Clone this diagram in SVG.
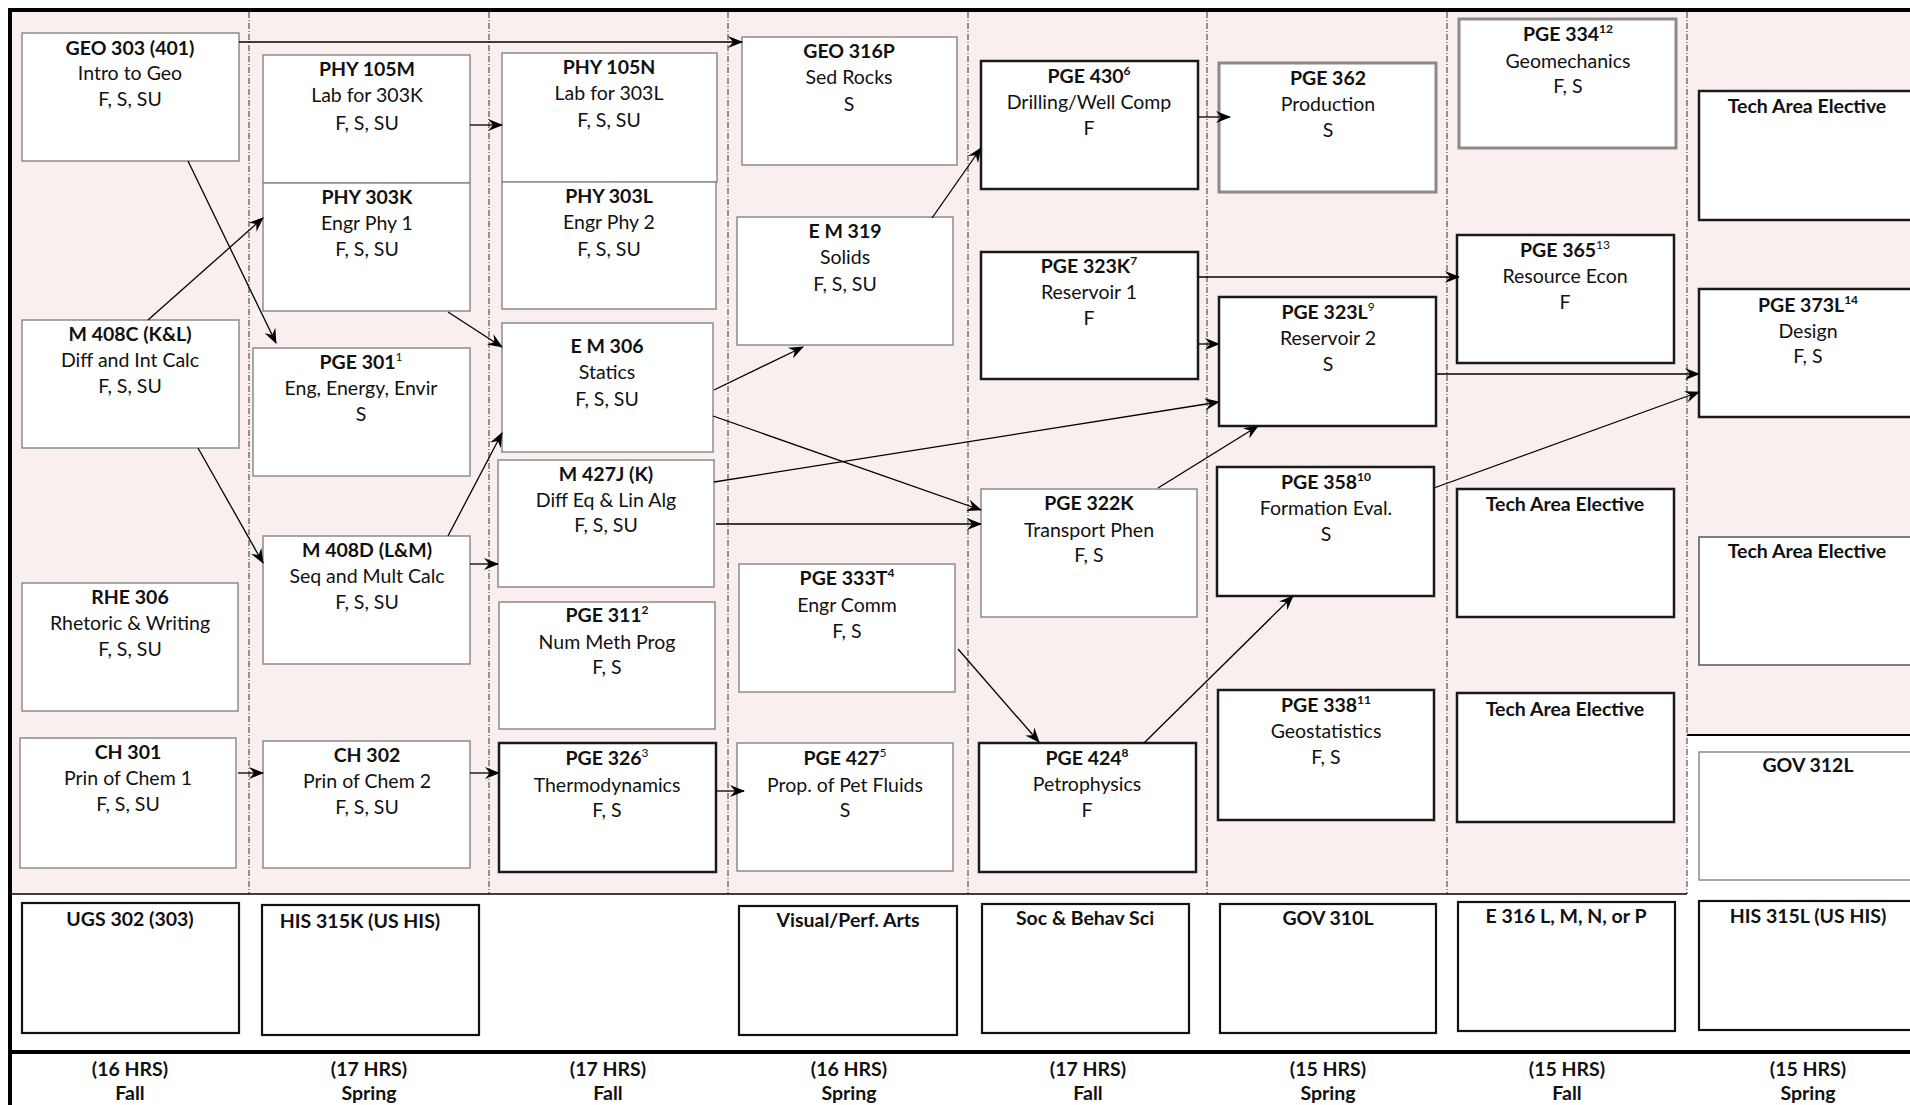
<svg xmlns="http://www.w3.org/2000/svg" width="1910" height="1105" viewBox="0 0 1910 1105">
<defs>
<style>
.g{fill:#fff;stroke:#8c8c8c;stroke-width:1.5}
.k{fill:#fff;stroke:#1a1a1a;stroke-width:2.5}
.gk{fill:#fff;stroke:#8a8a8a;stroke-width:3}
.dg{fill:#fff;stroke:#555;stroke-width:1.5}
.b{fill:#fff;stroke:#111;stroke-width:2.2}
text{font-family:Lato,"Liberation Sans",sans-serif;font-size:19.5px;fill:#111;text-anchor:middle}
.t{font-weight:bold}
.sup{font-size:12px}
.dash{stroke:#333;stroke-width:1;stroke-dasharray:6 2 1 2;fill:none}
.c line{stroke:#000;stroke-width:1.3;marker-end:url(#ah)}
</style>
<marker id="ah" viewBox="0 0 15 12" refX="14" refY="6" markerWidth="15" markerHeight="12" markerUnits="userSpaceOnUse" orient="auto"><path d="M0,0 L15,6 L0,12 L5,6 z" fill="#000"/></marker>
</defs>
<rect x="0" y="0" width="1910" height="1105" fill="#fff"/>
<g id="background">
<rect x="10" y="10" width="1677" height="884" fill="#f9efef"/>
<rect x="1687" y="10" width="223" height="725" fill="#f9efef"/>
<line class="dash" x1="249" y1="12" x2="249" y2="894"/>
<line class="dash" x1="489" y1="12" x2="489" y2="894"/>
<line class="dash" x1="728" y1="12" x2="728" y2="894"/>
<line class="dash" x1="968" y1="12" x2="968" y2="894"/>
<line class="dash" x1="1207" y1="12" x2="1207" y2="894"/>
<line class="dash" x1="1447" y1="12" x2="1447" y2="894"/>
<line class="dash" x1="1687" y1="12" x2="1687" y2="894"/>
<line x1="10" y1="894" x2="1687" y2="894" stroke="#000" stroke-width="1.5"/>
<line x1="1687" y1="735" x2="1910" y2="735" stroke="#000" stroke-width="2"/>
<line x1="8" y1="10" x2="1910" y2="10" stroke="#000" stroke-width="4"/>
<line x1="10" y1="8" x2="10" y2="1105" stroke="#000" stroke-width="4"/>
<line x1="8" y1="1052" x2="1910" y2="1052" stroke="#000" stroke-width="4"/>
</g>
<g id="GEO303"><rect class="g" x="22" y="33" width="217" height="128"/><text class="t" x="130" y="55">GEO 303 (401)</text><text x="130" y="80">Intro to Geo</text><text x="130" y="106">F, S, SU</text></g>
<g id="M408C"><rect class="g" x="22" y="320" width="217" height="128"/><text class="t" x="130" y="341">M 408C (K&amp;L)</text><text x="130" y="367">Diff and Int Calc</text><text x="130" y="393">F, S, SU</text></g>
<g id="RHE306"><rect class="g" x="22" y="583" width="216" height="128"/><text class="t" x="130" y="604">RHE 306</text><text x="130" y="630">Rhetoric &amp; Writing</text><text x="130" y="656">F, S, SU</text></g>
<g id="CH301"><rect class="g" x="20" y="738" width="216" height="130"/><text class="t" x="128" y="759">CH 301</text><text x="128" y="785">Prin of Chem 1</text><text x="128" y="811">F, S, SU</text></g>
<g id="PHY105M"><rect class="g" x="263" y="55" width="207" height="128"/><text class="t" x="367" y="76">PHY 105M</text><text x="367" y="102">Lab for 303K</text><text x="367" y="130">F, S, SU</text></g>
<g id="PHY303K"><rect class="g" x="263" y="183" width="207" height="128"/><text class="t" x="367" y="204">PHY 303K</text><text x="367" y="230">Engr Phy 1</text><text x="367" y="256">F, S, SU</text></g>
<g id="PGE301"><rect class="g" x="253" y="348" width="217" height="128"/><text x="361" y="369"><tspan class="t">PGE 301</tspan><tspan class="sup" dy="-8">1</tspan></text><text x="361" y="395">Eng, Energy, Envir</text><text x="361" y="421">S</text></g>
<g id="M408D"><rect class="g" x="263" y="536" width="207" height="128"/><text class="t" x="367" y="557">M 408D (L&amp;M)</text><text x="367" y="583">Seq and Mult Calc</text><text x="367" y="609">F, S, SU</text></g>
<g id="CH302"><rect class="g" x="263" y="741" width="207" height="127"/><text class="t" x="367" y="762">CH 302</text><text x="367" y="788">Prin of Chem 2</text><text x="367" y="814">F, S, SU</text></g>
<g id="PHY105N"><rect class="g" x="502" y="53" width="215" height="129"/><text class="t" x="609" y="74">PHY 105N</text><text x="609" y="100">Lab for 303L</text><text x="609" y="127">F, S, SU</text></g>
<g id="PHY303L"><rect class="g" x="502" y="182" width="214" height="127"/><text class="t" x="609" y="203">PHY 303L</text><text x="609" y="229">Engr Phy 2</text><text x="609" y="256">F, S, SU</text></g>
<g id="EM306"><rect class="g" x="502" y="323" width="211" height="129"/><text class="t" x="607" y="353">E M 306</text><text x="607" y="379">Statics</text><text x="607" y="406">F, S, SU</text></g>
<g id="M427J"><rect class="g" x="498" y="460" width="216" height="127"/><text class="t" x="606" y="481">M 427J (K)</text><text x="606" y="507">Diff Eq &amp; Lin Alg</text><text x="606" y="532">F, S, SU</text></g>
<g id="PGE311"><rect class="g" x="499" y="602" width="216" height="127"/><text x="607" y="622"><tspan class="t">PGE 311</tspan><tspan class="sup t" dy="-8">2</tspan></text><text x="607" y="649">Num Meth Prog</text><text x="607" y="674">F, S</text></g>
<g id="PGE326"><rect class="k" x="499" y="743" width="217" height="129"/><text x="607" y="765"><tspan class="t">PGE 326</tspan><tspan class="sup" dy="-8">3</tspan></text><text x="607" y="792">Thermodynamics</text><text x="607" y="817">F, S</text></g>
<g id="GEO316P"><rect class="g" x="742" y="37" width="215" height="128"/><text class="t" x="849" y="58">GEO 316P</text><text x="849" y="84">Sed Rocks</text><text x="849" y="111">S</text></g>
<g id="EM319"><rect class="g" x="737" y="217" width="216" height="128"/><text class="t" x="845" y="238">E M 319</text><text x="845" y="264">Solids</text><text x="845" y="291">F, S, SU</text></g>
<g id="PGE333T"><rect class="g" x="739" y="564" width="216" height="128"/><text x="847" y="585"><tspan class="t">PGE 333T</tspan><tspan class="sup t" dy="-8">4</tspan></text><text x="847" y="612">Engr Comm</text><text x="847" y="638">F, S</text></g>
<g id="PGE427"><rect class="g" x="737" y="743" width="216" height="128"/><text x="845" y="765"><tspan class="t">PGE 427</tspan><tspan class="sup" dy="-8">5</tspan></text><text x="845" y="792">Prop. of Pet Fluids</text><text x="845" y="817">S</text></g>
<g id="PGE430"><rect class="k" x="981" y="61" width="217" height="128"/><text x="1089" y="83"><tspan class="t">PGE 430</tspan><tspan class="sup t" dy="-8">6</tspan></text><text x="1089" y="109">Drilling/Well Comp</text><text x="1089" y="135">F</text></g>
<g id="PGE323K"><rect class="k" x="981" y="252" width="217" height="127"/><text x="1089" y="273"><tspan class="t">PGE 323K</tspan><tspan class="sup t" dy="-8">7</tspan></text><text x="1089" y="299">Reservoir 1</text><text x="1089" y="325">F</text></g>
<g id="PGE322K"><rect class="g" x="981" y="489" width="216" height="128"/><text class="t" x="1089" y="510">PGE 322K</text><text x="1089" y="537">Transport Phen</text><text x="1089" y="562">F, S</text></g>
<g id="PGE424"><rect class="k" x="979" y="743" width="217" height="129"/><text x="1087" y="765"><tspan class="t">PGE 424</tspan><tspan class="sup t" dy="-8">8</tspan></text><text x="1087" y="791">Petrophysics</text><text x="1087" y="817">F</text></g>
<g id="PGE362"><rect class="gk" x="1219" y="63" width="217" height="129"/><text class="t" x="1328" y="85">PGE 362</text><text x="1328" y="111">Production</text><text x="1328" y="137">S</text></g>
<g id="PGE323L"><rect class="k" x="1219" y="297" width="217" height="129"/><text x="1328" y="319"><tspan class="t">PGE 323L</tspan><tspan class="sup" dy="-8">9</tspan></text><text x="1328" y="345">Reservoir 2</text><text x="1328" y="371">S</text></g>
<g id="PGE358"><rect class="k" x="1217" y="467" width="217" height="129"/><text x="1326" y="489"><tspan class="t">PGE 358</tspan><tspan class="sup t" dy="-8">10</tspan></text><text x="1326" y="515">Formation Eval.</text><text x="1326" y="541">S</text></g>
<g id="PGE338"><rect class="k" x="1218" y="690" width="216" height="130"/><text x="1326" y="712"><tspan class="t">PGE 338</tspan><tspan class="sup t" dy="-8">11</tspan></text><text x="1326" y="738">Geostatistics</text><text x="1326" y="764">F, S</text></g>
<g id="PGE334"><rect class="gk" x="1459" y="19" width="217" height="129"/><text x="1568" y="41"><tspan class="t">PGE 334</tspan><tspan class="sup t" dy="-8">12</tspan></text><text x="1568" y="68">Geomechanics</text><text x="1568" y="93">F, S</text></g>
<g id="PGE365"><rect class="k" x="1457" y="235" width="217" height="128"/><text x="1565" y="257"><tspan class="t">PGE 365</tspan><tspan class="sup" dy="-8">13</tspan></text><text x="1565" y="283">Resource Econ</text><text x="1565" y="309">F</text></g>
<g id="TAE7a"><rect class="k" x="1457" y="489" width="217" height="128"/><text class="t" x="1565" y="511">Tech Area Elective</text></g>
<g id="TAE7b"><rect class="k" x="1457" y="693" width="217" height="129"/><text class="t" x="1565" y="716">Tech Area Elective</text></g>
<g id="TAE8a"><rect class="k" x="1699" y="91" width="217" height="129"/><text class="t" x="1807" y="113">Tech Area Elective</text></g>
<g id="PGE373L"><rect class="k" x="1699" y="289" width="217" height="128"/><text x="1808" y="312"><tspan class="t">PGE 373L</tspan><tspan class="sup t" dy="-8">14</tspan></text><text x="1808" y="338">Design</text><text x="1808" y="363">F, S</text></g>
<g id="TAE8b"><rect class="dg" x="1699" y="537" width="217" height="128"/><text class="t" x="1807" y="558">Tech Area Elective</text></g>
<g id="GOV312L"><rect class="g" x="1699" y="752" width="217" height="128"/><text class="t" x="1808" y="772">GOV 312L</text></g>
<g id="UGS302"><rect class="b" x="22" y="903" width="217" height="130"/><text class="t" x="130" y="926">UGS 302 (303)</text></g>
<g id="HIS315K"><rect class="b" x="262" y="905" width="217" height="130"/><text class="t" x="360" y="928">HIS 315K (US HIS)</text></g>
<g id="VisualPerfArts"><rect class="b" x="739" y="906" width="218" height="129"/><text class="t" x="848" y="927">Visual/Perf. Arts</text></g>
<g id="SocBehavSci"><rect class="b" x="982" y="904" width="207" height="129"/><text class="t" x="1085" y="925">Soc &amp; Behav Sci</text></g>
<g id="GOV310L"><rect class="b" x="1220" y="904" width="216" height="129"/><text class="t" x="1328" y="925">GOV 310L</text></g>
<g id="E316"><rect class="b" x="1458" y="902" width="217" height="129"/><text class="t" x="1566" y="923">E 316 L, M, N, or P</text></g>
<g id="HIS315L"><rect class="b" x="1699" y="901" width="217" height="129"/><text class="t" x="1808" y="923">HIS 315L (US HIS)</text></g>
<g id="hours">
<text class="t" x="130" y="1076">(16 HRS)</text><text class="t" x="130" y="1100">Fall</text>
<text class="t" x="369" y="1076">(17 HRS)</text><text class="t" x="369" y="1100">Spring</text>
<text class="t" x="608" y="1076">(17 HRS)</text><text class="t" x="608" y="1100">Fall</text>
<text class="t" x="849" y="1076">(16 HRS)</text><text class="t" x="849" y="1100">Spring</text>
<text class="t" x="1088" y="1076">(17 HRS)</text><text class="t" x="1088" y="1100">Fall</text>
<text class="t" x="1328" y="1076">(15 HRS)</text><text class="t" x="1328" y="1100">Spring</text>
<text class="t" x="1567" y="1076">(15 HRS)</text><text class="t" x="1567" y="1100">Fall</text>
<text class="t" x="1808" y="1076">(15 HRS)</text><text class="t" x="1808" y="1100">Spring</text>
</g>
<g id="connectors" class="c">
<line x1="239" y1="42" x2="742" y2="42"/>
<line x1="188" y1="161" x2="276" y2="343"/>
<line x1="148" y1="320" x2="263" y2="218"/>
<line x1="198" y1="448" x2="263" y2="563"/>
<line x1="238" y1="773" x2="263" y2="773"/>
<line x1="470" y1="125" x2="502" y2="125"/>
<line x1="448" y1="312" x2="502" y2="347"/>
<line x1="448" y1="536" x2="502" y2="433"/>
<line x1="470" y1="564" x2="498" y2="564"/>
<line x1="470" y1="773" x2="499" y2="773"/>
<line x1="714" y1="390" x2="803" y2="347"/>
<line x1="713" y1="416" x2="981" y2="510"/>
<line x1="714" y1="482" x2="1219" y2="402"/>
<line x1="716" y1="524" x2="981" y2="524"/>
<line x1="716" y1="791" x2="744" y2="791"/>
<line x1="932" y1="218" x2="981" y2="148"/>
<line x1="958" y1="649" x2="1039" y2="742"/>
<line x1="1198" y1="117" x2="1230" y2="117"/>
<line x1="1198" y1="277" x2="1459" y2="277"/>
<line x1="1198" y1="344" x2="1219" y2="344"/>
<line x1="1158" y1="488" x2="1258" y2="426"/>
<line x1="1144" y1="743" x2="1293" y2="596"/>
<line x1="1436" y1="374" x2="1699" y2="374"/>
<line x1="1434" y1="488" x2="1699" y2="392"/>
</g>
</svg>
